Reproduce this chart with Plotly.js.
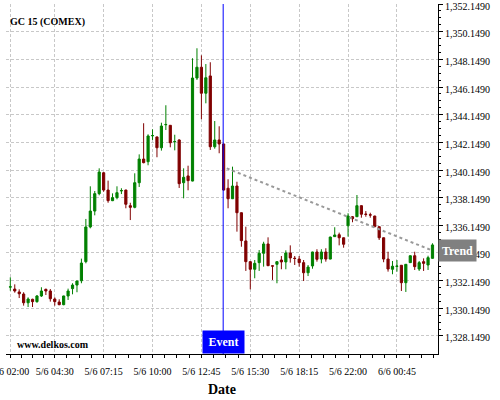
<!DOCTYPE html>
<html><head><meta charset="utf-8">
<script src="https://cdn.plot.ly/plotly-3.0.1.min.js"></script>
<style>html,body{margin:0;padding:0;background:#fff}#chart{width:500px;height:400px}</style>
</head><body><div id="chart"></div>
<script>
const openP = [1331.68,1331.54,1331.33,1331.18,1330.55,1330.80,1330.63,1331.04,1331.52,1331.40,
1330.82,1330.60,1330.41,1331.04,1331.57,1331.83,1332.14,1333.52,1336.03,1337.18,
1338.44,1339.95,1338.70,1337.93,1338.15,1338.64,1338.70,1337.57,1337.45,1339.23,
1340.94,1340.75,1342.62,1342.54,1341.76,1343.42,1343.38,1342.19,1342.32,1339.23,
1339.72,1339.35,1346.80,1347.58,1345.70,1346.95,1341.83,1342.32,1342.03,1338.83,
1338.07,1338.99,1337.06,1335.02,1333.52,1332.97,1333.45,1334.13,1334.80,1333.22,
1333.33,1333.64,1333.50,1334.15,1333.77,1333.71,1333.45,1332.72,1333.21,1334.22,
1333.71,1334.22,1333.71,1335.33,1335.47,1335.25,1336.12,1336.77,1336.77,1337.57,
1336.96,1336.91,1336.82,1336.05,1335.25,1333.71,1332.97,1333.18,1333.26,1332.00,
1333.45,1333.95,1332.99,1333.52,1333.28,1333.76];
const highP = [1332.39,1331.88,1331.52,1331.31,1330.94,1330.84,1331.11,1331.67,1331.57,1331.54,
1330.94,1330.80,1331.06,1331.57,1331.96,1332.14,1333.74,1336.61,1338.97,1338.63,
1340.27,1340.00,1339.38,1338.46,1338.97,1338.83,1338.72,1337.78,1339.91,1341.28,
1343.53,1342.73,1343.09,1342.56,1343.57,1344.83,1343.40,1342.70,1342.37,1340.27,
1340.46,1348.23,1348.95,1348.44,1347.81,1347.94,1343.69,1343.31,1342.05,1339.48,
1340.39,1339.30,1337.08,1336.05,1333.54,1333.64,1334.36,1334.96,1335.28,1333.24,
1333.54,1333.93,1334.34,1334.70,1333.93,1333.93,1333.64,1333.28,1334.24,1334.42,
1334.42,1334.49,1335.33,1336.01,1335.62,1335.27,1337.02,1336.82,1338.34,1337.59,
1337.18,1337.06,1336.84,1336.07,1335.27,1334.24,1333.57,1333.64,1333.28,1333.35,
1333.97,1334.24,1333.57,1333.76,1333.95,1334.85];
const lowP = [1331.42,1331.28,1330.89,1330.34,1330.24,1330.24,1330.55,1330.97,1331.11,1330.63,
1330.34,1330.37,1330.37,1330.75,1331.16,1331.31,1331.96,1333.40,1335.93,1336.87,
1338.32,1338.58,1337.78,1337.90,1338.03,1338.41,1337.38,1336.53,1337.38,1338.92,
1340.63,1340.49,1342.32,1341.07,1341.55,1343.04,1341.79,1341.57,1338.85,1338.10,
1338.68,1339.33,1346.66,1343.82,1344.97,1341.60,1341.69,1341.36,1338.65,1337.38,
1338.05,1335.69,1334.60,1332.85,1331.52,1332.32,1332.85,1333.16,1333.20,1332.20,
1331.96,1332.97,1332.97,1333.45,1333.28,1333.16,1332.12,1332.48,1333.01,1333.52,
1333.40,1333.52,1333.69,1335.31,1334.70,1334.53,1335.33,1336.37,1336.75,1336.70,
1336.77,1336.70,1336.01,1335.09,1333.48,1332.80,1332.61,1332.80,1331.40,1331.33,
1333.43,1332.92,1332.85,1332.85,1332.92,1333.74];
const closeP = [1331.70,1331.40,1331.20,1330.55,1330.82,1330.63,1331.04,1331.40,1331.40,1330.84,
1330.63,1330.41,1331.04,1331.40,1331.83,1332.12,1333.42,1336.03,1337.18,1338.44,
1340.00,1338.70,1337.93,1338.15,1338.51,1338.66,1337.67,1337.45,1339.23,1340.94,
1340.68,1342.61,1342.64,1341.76,1343.33,1343.44,1342.12,1342.21,1339.16,1339.62,
1339.38,1346.80,1347.58,1345.70,1346.82,1341.83,1342.32,1342.03,1338.70,1338.07,
1338.99,1337.06,1335.04,1333.52,1332.97,1333.40,1334.13,1334.80,1333.23,1333.20,
1333.52,1333.50,1334.15,1333.79,1333.75,1333.45,1332.72,1333.13,1334.22,1333.69,
1334.22,1333.71,1335.30,1335.45,1335.25,1334.78,1336.82,1336.63,1337.57,1336.95,
1336.94,1336.89,1336.05,1335.25,1333.71,1332.99,1333.19,1333.20,1332.00,1333.33,
1333.95,1333.16,1333.45,1333.40,1333.81,1334.73];

const tickIndex = [0,10,21,32,43,54,65,76,87];
const tickLabels = ['5/6 02:00','5/6 04:30','5/6 07:15','5/6 10:00','5/6 12:45','5/6 15:30','5/6 18:15','5/6 22:00','6/6 00:45'];
const priceTicks = [1328.149,1330.149,1332.149,1334.149,1336.149,1338.149,1340.149,1342.149,1344.149,1346.149,1348.149,1350.149,1352.149];
const eventIndex = 47.9;
const trendX = [48.7, 95];
const trendY = [1340.27, 1334.32];
const chartTitle = 'GC 15 (COMEX)';
const watermark = 'www.delkos.com';

const xIdx = openP.map((_, i) => i);
const SERIF = 'Liberation Serif, Times New Roman, serif';

// minor ticks: quarter steps between major ticks
const minorX = [];
for (let k = 0; k < tickIndex.length - 1; k++) {
  const a = tickIndex[k], b = tickIndex[k + 1];
  for (let q = 1; q < 4; q++) minorX.push(a + (b - a) * q / 4);
}
const lastStep = (tickIndex[tickIndex.length - 1] - tickIndex[tickIndex.length - 2]) / 4;
for (let q = 1; q < 4; q++) minorX.push(tickIndex[tickIndex.length - 1] + lastStep * q);
const minorY = [];
for (let k = 0; k < priceTicks.length - 1; k++) {
  const a = priceTicks[k], b = priceTicks[k + 1];
  for (let q = 1; q < 4; q++) minorY.push(a + (b - a) * q / 4);
}

const data = [
  {
    type: 'candlestick', x: xIdx, open: openP, high: highP, low: lowP, close: closeP,
    increasing: {line: {color: '#008000', width: 1}, fillcolor: '#008000'},
    decreasing: {line: {color: '#800000', width: 1}, fillcolor: '#800000'},
    whiskerwidth: 0, showlegend: false, hoverinfo: 'skip'
  },
  {
    type: 'scatter', mode: 'lines', x: trendX, y: trendY,
    line: {color: '#999999', width: 2, dash: 'dot'}, showlegend: false, hoverinfo: 'skip'
  }
];

const layout = {
  width: 500, height: 400,
  margin: {l: 6, r: 62, t: 4, b: 46},
  paper_bgcolor: '#ffffff', plot_bgcolor: '#ffffff',
  font: {family: SERIF, size: 10, color: '#000'},
  showlegend: false,
  title: {text: chartTitle, x: 10 / 500, xanchor: 'left', y: 1 - 21 / 400, yanchor: 'middle',
          font: {family: SERIF, size: 10, weight: 'bold', color: '#000'}},
  xaxis: {
    type: 'linear', range: [-0.97, 96.24], rangeslider: {visible: false},
    tickmode: 'array', tickvals: tickIndex, ticktext: tickLabels,
    ticks: 'outside', ticklen: 3, tickcolor: '#000', tickwidth: 1,
    tickfont: {family: SERIF, size: 10, color: '#000'},
    ticklabeloverflow: 'allow', ticklabelstandoff: 5,
    showline: true, linecolor: '#000', linewidth: 1, mirror: false,
    showgrid: true, gridcolor: '#c8c8c8', gridwidth: 1, griddash: '3px,2px',
    zeroline: false,
    minor: {tickmode: 'array', tickvals: minorX, ticks: 'outside', ticklen: 3, tickcolor: '#000', showgrid: false},
    title: {text: 'Date', font: {family: SERIF, size: 14, weight: 'bold', color: '#000'}, standoff: 8}
  },
  yaxis: {
    side: 'right', range: [1326.844, 1352.152],
    tickmode: 'array', tickvals: priceTicks, tickformat: ',.4f',
    ticks: 'outside', ticklen: 4, tickcolor: '#000', tickwidth: 1,
    tickfont: {family: SERIF, size: 10, color: '#000'},
    ticklabeloverflow: 'allow', ticklabelshift: 2,
    showline: true, linecolor: '#000', linewidth: 1,
    showgrid: true, gridcolor: '#c8c8c8', gridwidth: 1, griddash: '3px,2px',
    zeroline: false,
    minor: {tickmode: 'array', tickvals: minorY, ticks: 'outside', ticklen: 2, tickcolor: '#000', showgrid: false}
  },
  shapes: [
    {type: 'line', xref: 'x', yref: 'paper', x0: eventIndex, x1: eventIndex, y0: 0, y1: 1,
     line: {color: '#0000ff', width: 1}}
  ],
  annotations: [
    {xref: 'paper', yref: 'paper', x: 9 / 432, y: 0.005, xanchor: 'left', yanchor: 'bottom',
     text: watermark, showarrow: false, font: {family: SERIF, size: 10, weight: 'bold', color: '#000'}},
    {xref: 'x', yref: 'paper', x: eventIndex, y: 0, xanchor: 'center', yanchor: 'bottom',
     text: 'Event', showarrow: false, bgcolor: '#0000ff', width: 41, height: 22, borderpad: 0,
     font: {family: SERIF, size: 12, weight: 'bold', color: '#ffffff'}},
    {xref: 'paper', yref: 'y', x: 1, y: trendY[trendY.length - 1], xanchor: 'left', yanchor: 'middle',
     text: 'Trend', showarrow: false, bgcolor: '#808080', width: 37, height: 21, borderpad: 0,
     font: {family: SERIF, size: 12, weight: 'bold', color: '#ffffff'}}
  ]
};

Plotly.newPlot('chart', data, layout, {staticPlot: true, displayModeBar: false});
</script>
</body></html>
